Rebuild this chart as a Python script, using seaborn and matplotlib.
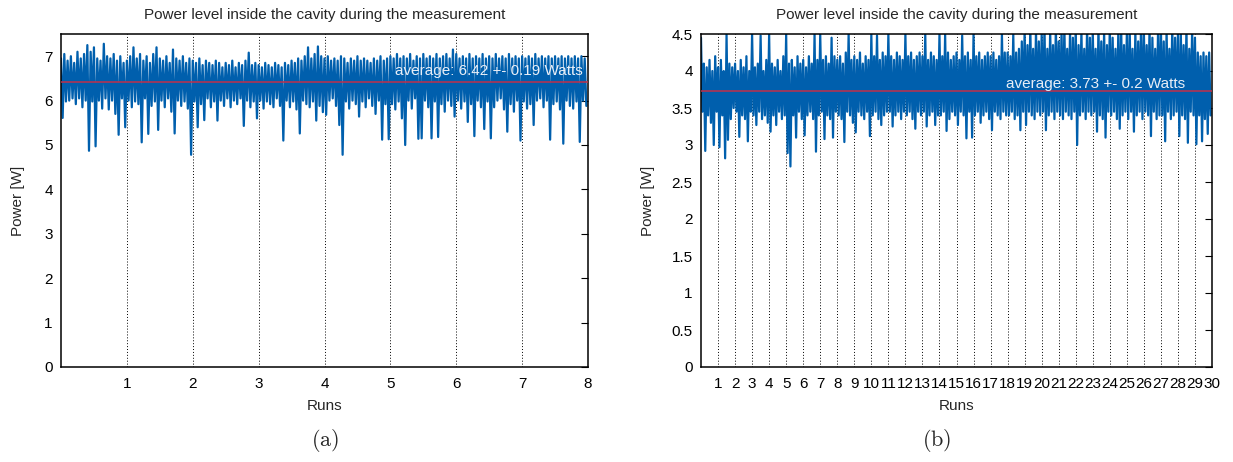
import numpy as np
import pandas as pd
import matplotlib
matplotlib.use("Agg")
import matplotlib.pyplot as plt
import seaborn as sns

# ---------------- data ----------------
title = "Power level inside the cavity during the measurement"
xlabel = "Runs"
ylabel = "Power [W]"

runs_a = 8
avg_a, std_a = 6.42, 0.19
# panel (a): 40 samples per run
power_a = [
    6.95, 5.61, 7.05, 5.98, 6.90, 6.00, 7.00, 6.05, 6.85, 5.92, 7.10, 6.05, 6.95, 5.85, 7.05, 6.00, 7.25, 4.87, 7.10, 5.98,
    7.20, 4.97, 6.95, 6.00, 6.90, 5.82, 7.28, 6.05, 7.00, 5.80, 6.95, 6.00, 7.05, 5.70, 6.90, 5.23, 7.00, 6.05, 6.85, 5.40,
    6.90, 6.00, 7.00, 5.85, 7.20, 5.98, 6.95, 5.92, 7.05, 5.06, 6.90, 6.05, 7.00, 5.25, 6.85, 5.88, 7.05, 5.98, 7.20, 5.34,
    6.95, 6.00, 6.90, 5.85, 7.00, 6.05, 6.85, 5.75, 7.15, 5.26, 6.95, 6.00, 6.90, 5.88, 7.00, 5.98, 6.85, 5.82, 6.95, 4.78,
    6.90, 5.98, 6.85, 5.40, 6.95, 5.92, 6.80, 5.56, 6.90, 6.05, 6.85, 5.85, 6.80, 5.98, 6.90, 5.55, 6.85, 6.00, 6.75, 5.88,
    6.85, 6.05, 6.80, 5.85, 6.90, 6.00, 6.75, 5.92, 6.85, 6.05, 6.80, 5.43, 6.90, 6.00, 7.08, 5.85, 6.80, 5.98, 6.85, 5.60,
    6.80, 6.00, 6.75, 5.82, 6.85, 5.98, 6.80, 5.92, 6.75, 5.85, 6.85, 6.05, 6.80, 5.88, 6.75, 5.10, 6.85, 6.00, 6.80, 5.85,
    6.90, 5.98, 6.85, 5.80, 6.95, 5.26, 6.90, 6.00, 7.00, 5.92, 7.20, 5.85, 6.95, 5.98, 7.05, 5.55, 7.22, 5.88, 7.00, 5.74,
    6.95, 5.68, 7.00, 6.00, 6.90, 6.05, 6.95, 5.88, 6.90, 5.45, 7.00, 4.78, 6.95, 5.98, 6.85, 5.82, 6.95, 6.00, 6.90, 5.92,
    7.00, 5.64, 6.90, 5.98, 6.95, 5.85, 6.90, 6.05, 6.85, 5.88, 6.95, 5.70, 6.90, 6.00, 7.00, 5.12, 6.90, 5.92, 6.95, 5.13,
    7.00, 5.92, 6.95, 5.80, 7.05, 5.98, 6.95, 5.60, 7.00, 5.00, 6.95, 6.00, 7.05, 5.82, 6.90, 6.05, 7.00, 5.14, 6.95, 5.15,
    7.05, 6.00, 6.95, 5.85, 7.00, 5.15, 6.95, 5.98, 7.05, 5.18, 6.95, 5.92, 7.00, 5.75, 7.05, 6.00, 6.95, 5.88, 7.15, 5.64,
    7.05, 6.00, 6.95, 5.82, 7.00, 5.98, 6.95, 5.52, 7.05, 5.92, 6.95, 5.20, 7.00, 6.00, 6.95, 5.85, 7.05, 5.36, 6.95, 5.98,
    7.00, 5.15, 6.95, 5.85, 7.05, 6.00, 6.95, 6.05, 7.00, 5.80, 6.95, 5.30, 7.05, 5.92, 6.95, 5.75, 7.00, 6.00, 6.95, 5.10,
    7.00, 5.98, 6.95, 5.82, 7.00, 5.92, 6.95, 5.45, 7.05, 6.00, 6.95, 6.05, 7.00, 5.85, 6.95, 6.00, 7.00, 5.12, 6.95, 5.92,
    7.00, 5.98, 6.95, 5.80, 7.00, 5.03, 6.95, 6.00, 7.00, 5.88, 6.95, 5.82, 7.00, 5.98, 6.95, 5.07, 7.00, 6.00, 6.95, 5.88,
]

runs_b = 30
avg_b, std_b = 3.73, 0.2
# panel (b): 12 samples per run
power_b = [
    4.45, 3.45, 4.10, 2.92, 4.05, 3.40, 4.15, 3.30, 4.00, 3.00, 4.20, 3.45,
    4.05, 2.97, 4.15, 3.40, 4.00, 2.82, 4.50, 3.07, 4.10, 3.35, 4.05, 3.50,
    4.10, 3.45, 4.00, 3.11, 4.15, 3.40, 4.05, 3.35, 4.20, 3.05, 4.00, 3.45,
    4.50, 3.40, 4.05, 3.27, 4.10, 3.45, 4.48, 3.35, 4.00, 3.40, 4.15, 3.30,
    4.50, 3.18, 4.10, 3.40, 4.05, 3.27, 4.15, 3.45, 4.00, 3.35, 4.20, 3.40,
    4.50, 2.89, 4.10, 2.71, 4.15, 3.40, 4.05, 3.10, 4.20, 3.45, 4.10, 3.35,
    4.15, 3.13, 4.05, 3.40, 4.20, 3.45, 4.10, 3.35, 4.50, 2.91, 4.15, 3.40,
    4.50, 3.45, 4.15, 3.08, 4.20, 3.40, 4.10, 3.35, 4.45, 3.10, 4.20, 3.45,
    4.15, 3.40, 4.20, 3.35, 4.10, 3.04, 4.25, 3.45, 4.50, 3.40, 4.15, 3.30,
    4.20, 3.17, 4.15, 3.45, 4.25, 3.40, 4.10, 3.35, 4.20, 3.45, 4.15, 3.12,
    4.50, 3.40, 4.20, 3.45, 4.48, 3.35, 4.15, 3.27, 4.25, 3.40, 4.20, 3.45,
    4.50, 3.45, 4.20, 3.25, 4.15, 3.40, 4.25, 3.45, 4.20, 3.35, 4.15, 3.45,
    4.50, 3.40, 4.20, 3.45, 4.25, 3.35, 4.15, 3.22, 4.20, 3.45, 4.25, 3.40,
    4.20, 3.45, 4.50, 3.25, 4.15, 3.40, 4.25, 3.45, 4.20, 3.27, 4.15, 3.40,
    4.50, 3.40, 4.20, 3.45, 4.50, 3.19, 4.25, 3.35, 4.15, 3.45, 4.20, 3.40,
    4.25, 3.27, 4.15, 3.45, 4.48, 3.40, 4.20, 3.09, 4.25, 3.45, 4.15, 3.10,
    4.50, 3.40, 4.20, 3.45, 4.25, 3.30, 4.15, 3.40, 4.20, 3.45, 4.25, 3.35,
    4.20, 3.20, 4.25, 3.45, 4.15, 3.40, 4.20, 3.35, 4.50, 3.45, 4.25, 3.40,
    4.25, 3.40, 4.20, 3.45, 4.50, 3.35, 4.25, 3.40, 4.30, 3.20, 4.40, 3.45,
    4.55, 3.27, 4.35, 3.45, 4.60, 3.40, 4.30, 3.35, 4.55, 3.45, 4.40, 3.40,
    4.50, 3.45, 4.60, 3.20, 4.30, 3.40, 4.55, 3.45, 4.35, 3.35, 4.60, 3.45,
    4.40, 3.40, 4.55, 3.35, 4.60, 3.45, 4.30, 3.40, 4.55, 3.35, 4.45, 3.45,
    4.60, 3.00, 4.35, 3.40, 4.55, 3.45, 4.30, 3.35, 4.60, 3.45, 4.45, 3.40,
    4.55, 3.45, 4.30, 3.18, 4.60, 3.40, 4.40, 3.35, 4.55, 3.10, 4.35, 3.45,
    4.60, 3.40, 4.45, 3.45, 4.30, 3.35, 4.55, 3.22, 4.60, 3.40, 4.35, 3.45,
    4.50, 3.35, 4.60, 3.45, 4.30, 3.18, 4.55, 3.40, 4.40, 3.45, 4.60, 3.35,
    4.55, 3.45, 4.35, 3.40, 4.60, 3.12, 4.45, 3.45, 4.30, 3.35, 4.55, 3.40,
    4.60, 3.40, 4.40, 3.05, 4.55, 3.45, 4.30, 3.35, 4.60, 3.40, 4.45, 3.45,
    4.50, 3.12, 4.55, 3.40, 4.35, 3.35, 4.60, 3.03, 4.30, 3.45, 4.55, 3.40,
    4.45, 3.01, 4.25, 3.40, 4.20, 3.05, 4.25, 3.35, 4.20, 3.15, 4.25, 3.40,
]

ticks_a = list(range(1, 9))
ticks_y_a = [0, 1, 2, 3, 4, 5, 6, 7]
ticks_b = list(range(1, 31))
ticks_y_b = [0, 0.5, 1, 1.5, 2, 2.5, 3, 3.5, 4, 4.5]
captions = ["(a)", "(b)"]

# ---------------- styling ----------------
BLUE = "#005fad"
RED = "#c0304a"
TEXT_LIGHT = "#e8eef7"
FS = 11

sns.set_theme(style="white")
plt.rcParams["font.family"] = ["Liberation Sans", "DejaVu Sans"]
plt.rcParams["mathtext.fontset"] = "cm"

W, H = 1233, 462
fig = plt.figure(figsize=(W / 100, H / 100), dpi=100)
ax1 = fig.add_axes([61 / W, 1 - 367 / H, 527 / W, 333 / H])
ax2 = fig.add_axes([701 / W, 1 - 367 / H, 511 / W, 333 / H])


def draw(ax, values, runs, avg, std, ylim, xt, yt, txt_x, txt_y, ylabelpad):
    n = len(values)
    df = pd.DataFrame({"run": np.arange(n) * runs / n, "power": values})
    sns.lineplot(data=df, x="run", y="power", ax=ax, color=BLUE, lw=1.6,
                 estimator=None, sort=False, zorder=2)
    ax.axhline(avg, color=RED, lw=1.1, zorder=3)
    ax.text(txt_x, txt_y, f"average: {avg} +- {std} Watts", ha="right", va="center",
            color=TEXT_LIGHT, fontsize=FS, zorder=4)
    ax.set_xlim(0, runs)
    ax.set_ylim(*ylim)
    ax.set_xticks(xt)
    ax.set_yticks(yt)
    ax.set_yticklabels([f"{v:g}" for v in yt])
    ax.set_axisbelow(True)
    ax.grid(axis="x", color="black", linestyle=(0, (1, 2)), lw=0.7)
    ax.grid(axis="y", visible=False)
    ax.tick_params(direction="in", length=5, width=0.8, right=True, top=False,
                   labelsize=FS, colors="black", pad=6)
    ax.tick_params(axis="x", length=4, pad=7)
    for s in ax.spines.values():
        s.set_visible(True)
        s.set_color("black")
        s.set_linewidth(1.1)
    ax.set_title(title, fontsize=FS, pad=11)
    ax.set_xlabel(xlabel, fontsize=FS, labelpad=6)
    ax.set_ylabel(ylabel, fontsize=FS, labelpad=ylabelpad)


draw(ax1, power_a, runs_a, avg_a, std_a, (0, 7.5), ticks_a, ticks_y_a, 7.92, 6.67, 14)
draw(ax2, power_b, runs_b, avg_b, std_b, (0, 4.5), ticks_b, ticks_y_b, 28.4, 3.82, 12)

fig.text(325 / W, 1 - 440 / H, r"$(\mathrm{a})$", ha="center", va="center", fontsize=16)
fig.text(937 / W, 1 - 440 / H, r"$(\mathrm{b})$", ha="center", va="center", fontsize=16)

fig.savefig("out.png", dpi=100)
